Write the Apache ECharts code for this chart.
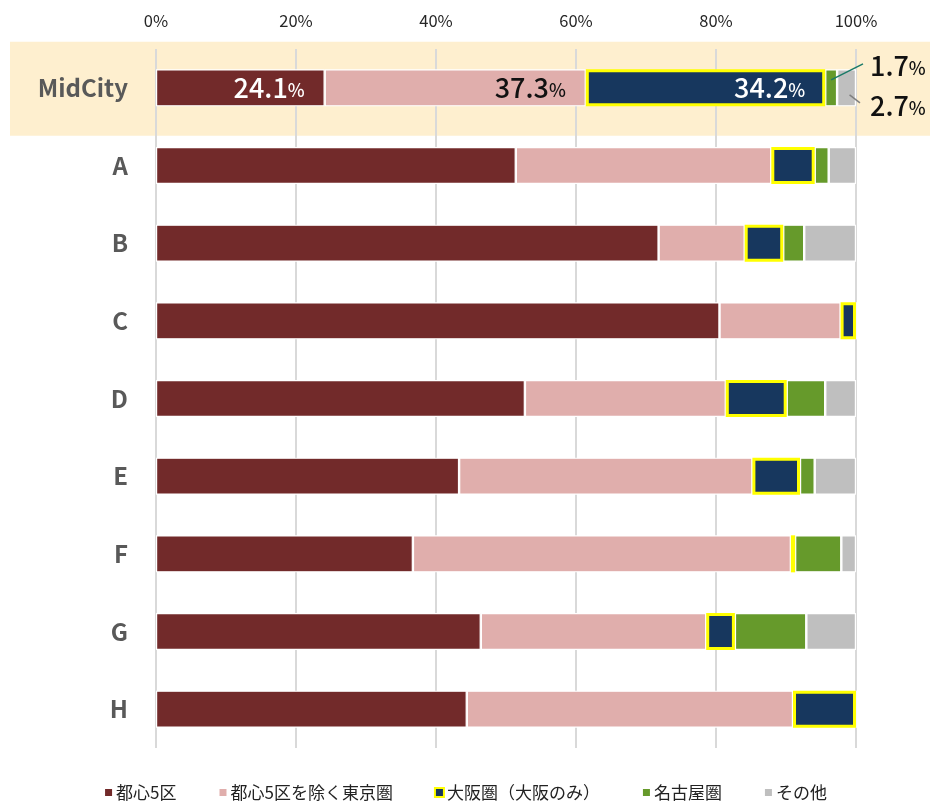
<!DOCTYPE html>
<html>
<head>
<meta charset="utf-8">
<script src="https://cdn.jsdelivr.net/npm/echarts@6/dist/echarts.min.js"></script>
<style>
html,body{margin:0;padding:0;background:#fff;}
#main{width:930px;height:806px;}
</style>
</head>
<body>
<div id="main"></div>
<script>
const categories = ['MidCity', 'A', 'B', 'C', 'D', 'E', 'F', 'G', 'H'];
const seriesNames = ['都心5区', '都心5区を除く東京圏', '大阪圏（大阪のみ）', '名古屋圏', 'その他'];
const central5 = [24.1, 51.4, 71.8, 80.5, 52.7, 43.3, 36.7, 46.4, 44.4];
const tokyoOther = [37.3, 36.5, 12.3, 17.3, 28.7, 41.9, 54.0, 32.2, 46.6];
const osaka = [34.2, 6.2, 5.5, 2.2, 8.7, 6.8, 0.6, 4.1, 9.0];
const nagoya = [1.7, 2.0, 3.0, 0, 5.5, 2.1, 6.6, 10.2, 0];
const others = [2.7, 3.9, 7.4, 0, 4.4, 5.9, 2.1, 7.1, 0];
const xTicks = [0, 20, 40, 60, 80, 100];

const colors = ['#722A2A', '#E0AEAC', '#17375E', '#669A2B', '#BFBFBF'];
const FONT = '"Noto Sans CJK JP", "Noto Sans", sans-serif';

const chart = echarts.init(document.getElementById('main'));

function richFor(color) {
  return {
    n: {fontSize: 27, color: color, fontFamily: FONT, fontWeight: 500},
    p: {fontSize: 18, color: color, fontFamily: FONT, fontWeight: 500, padding: [5, 0, 0, 0]}
  };
}
function inLabel(color) {
  return {
    show: true,
    position: 'insideRight',
    distance: 20,
    formatter: p => '{n|' + p.value.toFixed(1) + '}{p|%}',
    rich: richFor(color)
  };
}

function makeData(arr, labelCfg) {
  return arr.map((v, i) => (i === 0 && labelCfg) ? {value: v, label: labelCfg} : v);
}

const dataArrays = [central5, tokyoOther, osaka, nagoya, others];
const midLabels = [inLabel('#fff'), inLabel('#111'), inLabel('#fff'), null, null];

const series = dataArrays.map((arr, k) => ({
  name: seriesNames[k],
  type: 'bar',
  stack: 'total',
  barWidth: 37,
  data: makeData(arr, midLabels[k]),
  itemStyle: k === 2
    ? {color: colors[k], borderColor: '#FFFF00', borderWidth: 3}
    : {color: colors[k], borderColor: '#fff', borderWidth: 1.2},
  emphasis: {disabled: true},
  z: k === 2 ? 3 : 2
}));

chart.setOption({
  backgroundColor: '#fff',
  animation: false,
  textStyle: {fontFamily: FONT},
  grid: {left: 156, right: 74, top: 49, bottom: 58, containLabel: false},
  xAxis: {
    type: 'value',
    position: 'top',
    min: 0, max: 100, interval: 20,
    axisLine: {show: false},
    axisTick: {show: false},
    axisLabel: {formatter: '{value}%', fontSize: 16.5, color: '#262626', margin: 20, fontFamily: FONT},
    splitLine: {show: true, lineStyle: {color: '#d9d9d9', width: 2}}
  },
  yAxis: {
    type: 'category',
    inverse: true,
    data: categories,
    axisLine: {show: false},
    axisTick: {show: false},
    axisLabel: {fontSize: 24, fontWeight: 'bold', color: '#595959', margin: 28, fontFamily: FONT}
  },
  legend: {
    bottom: 0,
    left: 'center',
    itemWidth: 9,
    itemHeight: 9,
    itemGap: 41,
    icon: 'rect',
    textStyle: {fontSize: 17, color: '#222', fontFamily: FONT, padding: [0, 0, 0, -2]},
    data: seriesNames
  },
  series: series
});

// Decoration: highlight band behind MidCity row and leader labels
const cy = chart.convertToPixel({gridIndex: 0}, [0, categories[0]])[1];
const gx = (v) => chart.convertToPixel({gridIndex: 0}, [v, categories[0]])[0];
const greenMid = gx(central5[0] + tokyoOther[0] + osaka[0] + nagoya[0] / 2);
const grayMid = gx(central5[0] + tokyoOther[0] + osaka[0] + nagoya[0] + others[0] / 2);
const right = gx(100);
const gRich = {
  n: {fontSize: 27, fill: '#111', fontFamily: FONT, fontWeight: 500},
  p: {fontSize: 18, fill: '#111', fontFamily: FONT, fontWeight: 500, padding: [5, 0, 0, 0]}
};
chart.setOption({
  graphic: [
    {type: 'rect', z: -10, silent: true,
     shape: {x: 10, y: cy - 46, width: 920, height: 94},
     style: {fill: '#FEEFCF'}},
    {type: 'line', z: 100, silent: true,
     shape: {x1: greenMid, y1: cy - 8, x2: right + 7, y2: cy - 24},
     style: {stroke: '#1A7A68', lineWidth: 1.5}},
    {type: 'line', z: 100, silent: true,
     shape: {x1: grayMid + 3, y1: cy + 7, x2: right + 4, y2: cy + 15},
     style: {stroke: '#7F7F7F', lineWidth: 1.5}},
    {type: 'text', z: 100, silent: true, x: right + 14, y: cy - 22,
     style: {text: '{n|' + nagoya[0].toFixed(1) + '}{p|%}', verticalAlign: 'middle', align: 'left', rich: gRich}},
    {type: 'text', z: 100, silent: true, x: right + 14, y: cy + 18,
     style: {text: '{n|' + others[0].toFixed(1) + '}{p|%}', verticalAlign: 'middle', align: 'left', rich: gRich}}
  ]
});
</script>
</body>
</html>
